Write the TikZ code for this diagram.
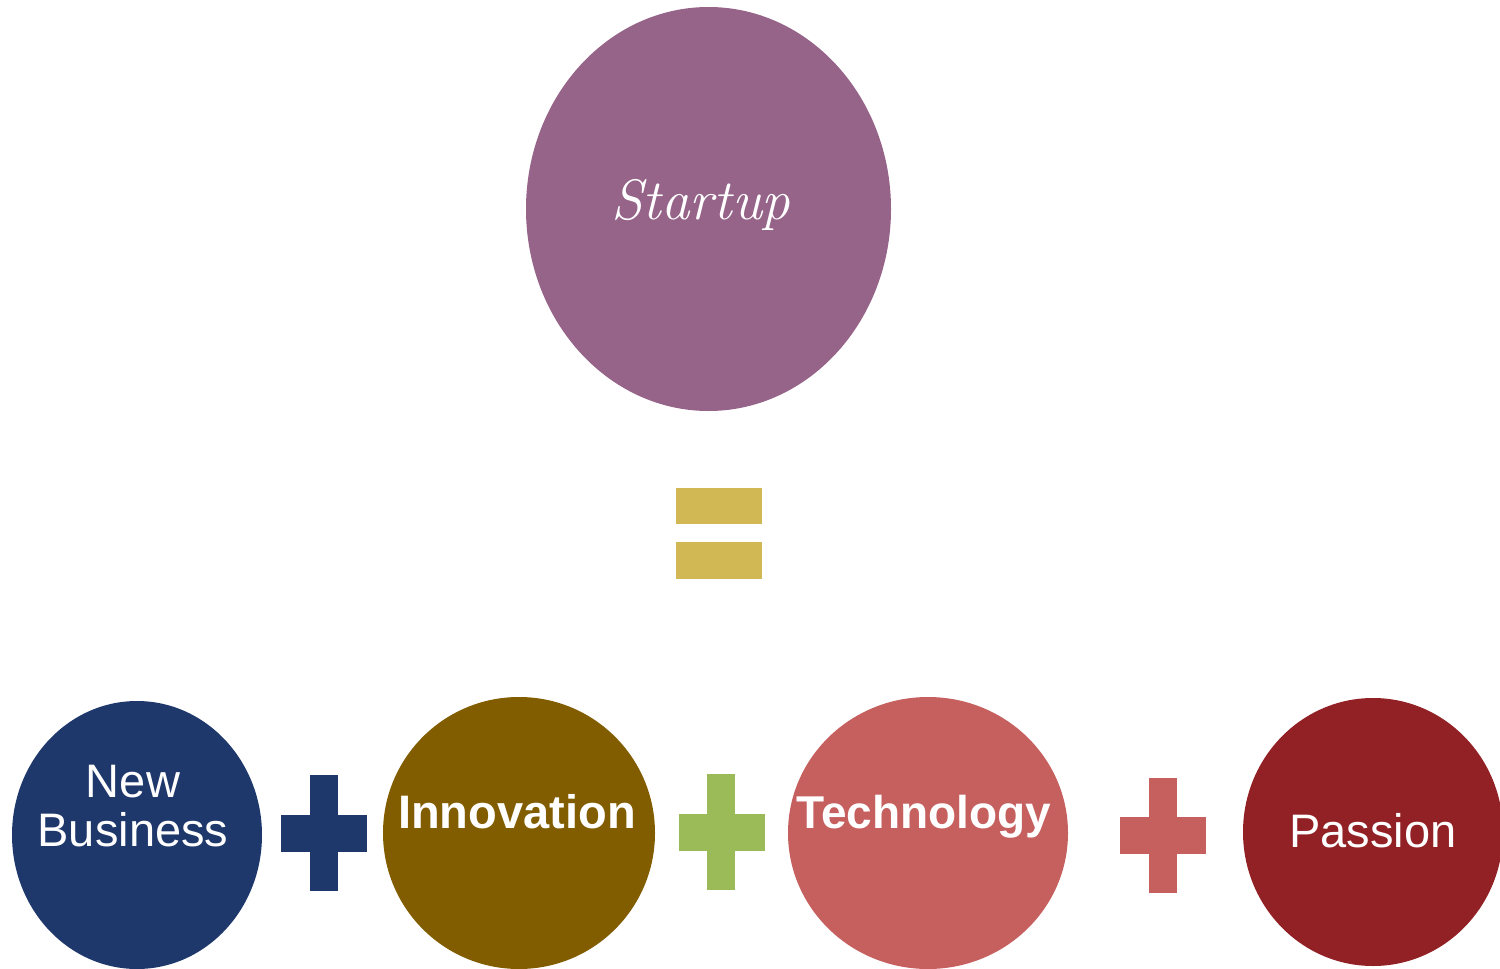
\documentclass[tikz,border=0pt]{standalone}
\usepackage{fontspec}
\setmainfont{Liberation Sans}
\newfontfamily\startupfont{Latin Modern Roman}
\usetikzlibrary{shapes.geometric}
\definecolor{startupc}{RGB}{150,99,137}
\definecolor{eqc}{RGB}{210,183,85}
\definecolor{nbc}{RGB}{31,56,107}
\definecolor{innc}{RGB}{130,93,0}
\definecolor{greenc}{RGB}{155,187,89}
\definecolor{techc}{RGB}{197,96,95}
\definecolor{passc}{RGB}{146,33,37}
\tikzset{
  blob/.style={ellipse, inner sep=0pt, draw=none},
  barbox/.style={rectangle, inner sep=0pt, draw=none},
  lbl/.style={inner sep=0pt, text=white, anchor=base},
  regtxt/.style={lbl, font=\fontsize{47}{49}\selectfont},
  boldtxt/.style={lbl, font=\fontsize{47}{49}\selectfont\bfseries},
}
\begin{document}
\begin{tikzpicture}[x=1pt,y=-1pt]
\useasboundingbox (0,0) rectangle (1500,969);
\clip (0,0) rectangle (1500,969);
% Startup
\node[blob, fill=startupc, minimum width=365pt, minimum height=404pt] (startup) at (708.5,209) {};
\node[lbl, font=\fontsize{57}{60}\selectfont\startupfont\itshape] (startuptxt) at (701,219) {Startup};
% equals
\node[barbox, fill=eqc, minimum width=86pt, minimum height=36pt] (eqa) at (719,506) {};
\node[barbox, fill=eqc, minimum width=86pt, minimum height=37pt] (eqb) at (719,560.5) {};
% bottom ellipses
\node[blob, fill=nbc, minimum width=250pt, minimum height=268pt] (nb) at (137,835) {};
\node[blob, fill=innc, minimum width=272pt, minimum height=272pt] (inn) at (519,833) {};
\node[blob, fill=techc, minimum width=280pt, minimum height=272pt] (tech) at (928,833) {};
\node[blob, fill=passc, minimum width=260pt, minimum height=268pt] (pass) at (1373,832) {};
% labels
\node[regtxt] (nbtxta) at (133,797) {New};
\node[regtxt] (nbtxtb) at (133,846) {Business};
\node[boldtxt] (inntxt) at (517,828) {Innovation};
\node[boldtxt, font=\fontsize{46}{49}\selectfont\bfseries] (techtxt) at (924,828) {Technology};
\node[regtxt] (passtxt) at (1373,847) {Passion};
% plus 1
\node[barbox, fill=nbc, minimum width=28pt, minimum height=116pt] (plav) at (324,833) {};
\node[barbox, fill=nbc, minimum width=86pt, minimum height=37pt] (plah) at (324,833.5) {};
% plus 2
\node[barbox, fill=greenc, minimum width=28pt, minimum height=116pt] (plbv) at (721,832) {};
\node[barbox, fill=greenc, minimum width=86pt, minimum height=37pt] (plbh) at (722,832.5) {};
% plus 3
\node[barbox, fill=techc, minimum width=28pt, minimum height=115pt] (plcv) at (1163,835.5) {};
\node[barbox, fill=techc, minimum width=86pt, minimum height=37pt] (plch) at (1163,835.5) {};
\end{tikzpicture}
\end{document}
